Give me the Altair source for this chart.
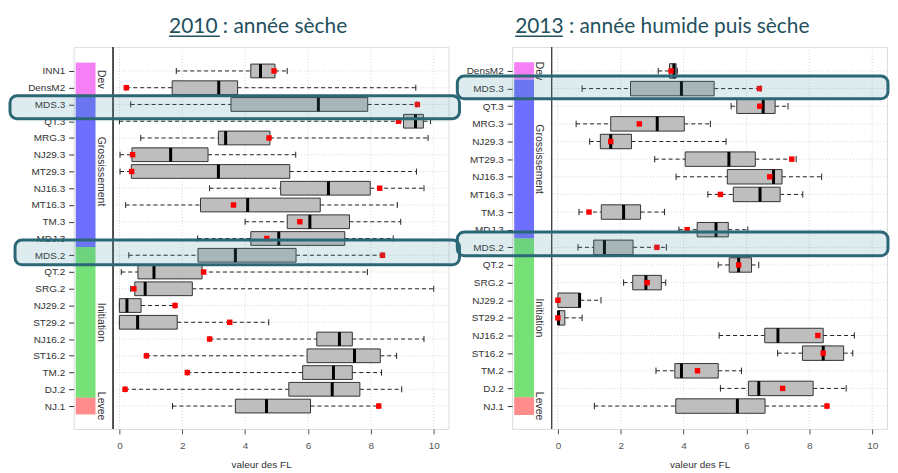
import altair as alt
import pandas as pd

# ---------------- data ----------------
rows2010 = ["INN1", "DensM2", "MDS.3", "QT.3", "MRG.3", "NJ29.3", "MT29.3", "NJ16.3",
            "MT16.3", "TM.3", "MDJ.3", "MDS.2", "QT.2", "SRG.2", "NJ29.2", "ST29.2",
            "NJ16.2", "ST16.2", "TM.2", "DJ.2", "NJ.1"]
lo2010 = [1.81, 0.22, 0.36, 0.00, 0.68, 0.02, 0.02, 2.87, 0.20, 4.00, 2.49, 0.30, 0.06,
          0.36, 0.00, 0.00, 2.87, 0.86, 2.16, 0.18, 1.69]
q1_2010 = [4.18, 1.68, 3.55, 9.04, 3.15, 0.40, 0.38, 5.13, 2.58, 5.34, 4.18, 2.50, 0.59,
           0.49, 0.00, 0.00, 6.28, 5.97, 5.83, 5.39, 3.69]
med2010 = [4.49, 3.16, 6.33, 9.42, 3.38, 1.63, 3.15, 6.65, 4.08, 6.06, 5.07, 3.69, 1.10,
           0.82, 0.24, 0.58, 7.00, 7.48, 6.81, 6.77, 4.68]
q3_2010 = [4.95, 3.76, 7.90, 9.67, 4.79, 2.82, 5.42, 7.98, 6.39, 7.32, 7.17, 5.62, 2.63,
           2.32, 0.69, 1.84, 7.41, 8.30, 7.41, 7.65, 6.08]
hi2010 = [5.34, 9.43, 9.46, 9.90, 9.82, 5.61, 9.45, 9.69, 8.84, 8.95, 8.71, 8.37, 7.89,
          10.00, 1.77, 4.75, 9.69, 8.82, 8.34, 8.98, 8.25]
mean2010 = [4.92, 0.22, 9.48, 8.88, 4.76, 0.42, 0.39, 8.28, 3.63, 5.74, 4.69, 8.37, 2.68,
            0.46, 1.77, 3.51, 2.87, 0.86, 2.16, 0.18, 8.25]

rows2013 = ["DensM2", "MDS.3", "QT.3", "MRG.3", "NJ29.3", "MT29.3", "NJ16.3", "MT16.3",
            "TM.3", "MDJ.3", "MDS.2", "QT.2", "SRG.2", "NJ29.2", "ST29.2", "NJ16.2",
            "ST16.2", "TM.2", "DJ.2", "NJ.1"]
lo2013 = [3.19, 0.77, 5.51, 0.58, 1.01, 3.08, 3.76, 4.77, 0.67, 3.85, 0.64, 5.10, 2.09,
          0.00, 0.00, 5.13, 6.99, 3.12, 5.17, 1.16]
q1_2013 = [3.55, 2.31, 5.69, 1.68, 1.35, 4.05, 5.39, 5.58, 1.38, 4.43, 1.14, 5.45, 2.38,
           0.00, 0.00, 6.58, 7.78, 3.72, 6.06, 3.75]
med2013 = [3.69, 3.93, 6.53, 3.16, 1.68, 5.44, 6.86, 6.43, 2.09, 5.03, 1.48, 5.75, 2.80,
           0.69, 0.02, 7.00, 8.44, 3.93, 6.39, 5.71]
q3_2013 = [3.76, 4.97, 6.91, 4.02, 2.34, 6.28, 7.13, 7.07, 2.63, 5.42, 2.39, 6.16, 3.29,
           0.71, 0.22, 8.44, 9.09, 5.10, 8.12, 6.59]
hi2013 = [3.80, 6.44, 7.32, 4.85, 5.35, 7.58, 8.39, 7.79, 3.39, 6.04, 3.45, 6.39, 3.43,
          1.37, 0.77, 9.43, 9.38, 5.84, 9.17, 8.56]
mean2013 = [3.60, 6.41, 6.42, 2.59, 1.68, 7.44, 6.74, 5.17, 0.99, 4.11, 3.15, 5.75, 2.84,
            0.00, 0.00, 8.27, 8.44, 4.44, 7.15, 8.56]

stage_names = ["Dev", "Grossissement", "Initiation", "Levee"]
stage_colors = ["#f25cf2", "#4646ff", "#4fd84f", "#ff6a6a"]
# first / last row (1-based) of every stage
stages2010_first = [1, 3, 12, 21]
stages2010_last = [2, 11, 20, 21]
stages2013_first = [1, 2, 11, 20]
stages2013_last = [1, 10, 19, 20]

# highlighted rows (annotation boxes)
hl2010_rows = [3, 12]
hl2010_top = [-0.52, -0.91]
hl2010_bot = [0.85, 0.57]
hl2010_left = [-3.48, -3.32]
hl2010_right = [10.82, 10.82]
hl2013_rows = [2, 11]
hl2013_top = [-0.72, -0.87]
hl2013_bot = [0.58, 0.48]
hl2013_left = [-3.2, -3.2]
hl2013_right = [10.5, 10.5]

x_ticks = [0, 2, 4, 6, 8, 10]
X_DOM = [-1.456, 10.47]

W, H = 377, 384
FONT = "Liberation Sans"
TITLE_COLOR = "#24505e"


def panel(rows, lo, q1, med, q3, hi, mean, s_first, s_last,
          hl_rows, hl_top, hl_bot, hl_left, hl_right,
          title_text, title_dx, ul_x, ul_x2):
    n = len(rows)
    df = pd.DataFrame({"row": rows, "r": list(range(1, n + 1)), "lo": lo, "q1": q1,
                       "med": med, "q3": q3, "hi": hi, "mean": mean})
    df["ya"] = df["r"] - 0.41
    df["yb"] = df["r"] + 0.41
    df["ca"] = df["r"] - 0.18
    df["cb"] = df["r"] + 0.18

    st = pd.DataFrame({"stage": stage_names, "first": s_first, "last": s_last})
    st["y0"] = st["first"] - 0.5
    st["y1"] = st["last"] + 0.5
    st["yc"] = (st["first"] + st["last"]) / 2

    hl = pd.DataFrame({"r": hl_rows, "t": hl_top, "b": hl_bot, "l": hl_left, "rr": hl_right})
    hl["y0"] = hl["r"] + hl["t"]
    hl["y1"] = hl["r"] + hl["b"]

    step = (H - 47.0) / (n - 1)
    ymin = 1 - 24.0 / step
    ymax = ymin + H / step
    ydom = [ymin, ymax]

    labels_js = "[" + ",".join("'" + r + "'" for r in rows) + "]"
    xs = alt.Scale(domain=X_DOM, nice=False, zero=False)
    ys = alt.Scale(domain=ydom, nice=False, zero=False, reverse=True)

    x_axis = alt.Axis(values=x_ticks, title="valeur des FL", grid=False, domain=False,
                      tickSize=5, tickColor="#555", labelColor="#555",
                      labelFontSize=10, labelFont=FONT, labelPadding=7,
                      titleFont=FONT, titleFontSize=10, titleFontWeight="normal",
                      titleColor="#333", titlePadding=9)
    y_axis = alt.Axis(values=list(range(1, n + 1)), labelExpr=labels_js + "[datum.value - 1]",
                      title=None, grid=False, domain=False, tickSize=5,
                      tickColor="#333", labelColor="#333", labelFontSize=10,
                      labelFont=FONT, labelPadding=4, labelOverlap=False,
                      labelBound=False, labelFlush=False)

    def X(f):
        return alt.X(f, scale=xs, axis=x_axis, title="valeur des FL")

    def Y(f):
        return alt.Y(f, scale=ys, axis=y_axis, title=None)

    base = alt.Chart(df)

    vgrid = alt.Chart(pd.DataFrame({"t": x_ticks})).mark_rule(
        color="#d6d6d6", strokeDash=[1, 2], strokeWidth=1).encode(x=X("t:Q"))
    hgrid = base.mark_rule(color="#d6d6d6", strokeDash=[1, 2], strokeWidth=1).encode(
        y=Y("r:Q"), x=alt.datum(-0.2), x2=alt.datum(X_DOM[1]))

    strips = alt.Chart(st).mark_rect(opacity=0.78).encode(
        x=alt.datum(-1.39), x2=alt.datum(-0.76),
        y=Y("y0:Q"), y2="y1:Q",
        color=alt.Color("stage:N", scale=alt.Scale(domain=stage_names, range=stage_colors),
                        legend=None))
    stage_txt = alt.Chart(st).mark_text(angle=90, fontSize=10.5, font=FONT, color="#333",
                                        align="center", baseline="middle").encode(
        x=alt.datum(-0.6), y=Y("yc:Q"), text="stage:N")
    inner = alt.Chart(st).mark_rule(color="#444", strokeWidth=1).encode(x=alt.datum(-0.2))

    wl = base.mark_rule(color="#222", strokeDash=[4, 3], strokeWidth=1).encode(
        x=X("lo:Q"), x2="q1:Q", y=Y("r:Q"))
    wh = base.mark_rule(color="#222", strokeDash=[4, 3], strokeWidth=1).encode(
        x=X("q3:Q"), x2="hi:Q", y=Y("r:Q"))
    cl = base.mark_rule(color="#222", strokeWidth=1).encode(
        x=X("lo:Q"), y=Y("ca:Q"), y2="cb:Q")
    ch = base.mark_rule(color="#222", strokeWidth=1).encode(
        x=X("hi:Q"), y=Y("ca:Q"), y2="cb:Q")
    box = base.mark_rect(fill="#bebebe", stroke="#333", strokeWidth=1).encode(
        x=X("q1:Q"), x2="q3:Q", y=Y("ya:Q"), y2="yb:Q")
    medl = base.mark_rule(color="#000", strokeWidth=3).encode(
        x=X("med:Q"), y=Y("ya:Q"), y2="yb:Q")
    means = base.mark_square(color="#ff0000", size=30, opacity=1).encode(
        x=X("mean:Q"), y=Y("r:Q"))

    hlbox = alt.Chart(hl).mark_rect(fill="#4f93a8", fillOpacity=0.18, stroke="#2c6776",
                                    strokeWidth=3, cornerRadius=7, clip=False).encode(
        x=X("l:Q"), x2="rr:Q", y=Y("y0:Q"), y2="y1:Q")

    one = pd.DataFrame({"t": [title_text]})
    title = alt.Chart(one).mark_text(align="left", baseline="alphabetic", fontSize=21,
                                     font="Lato", color=TITLE_COLOR).encode(
        x=alt.value(title_dx), y=alt.value(-14), text="t:N")
    underline = alt.Chart(one).mark_rule(color=TITLE_COLOR, strokeWidth=1.5).encode(
        x=alt.value(ul_x), x2=alt.value(ul_x2), y=alt.value(-11))

    return alt.layer(vgrid, hgrid, strips, stage_txt, inner, wl, wh, cl, ch, box, medl,
                     means, hlbox, title, underline).properties(width=W, height=H)


left = panel(rows2010, lo2010, q1_2010, med2010, q3_2010, hi2010, mean2010,
             stages2010_first, stages2010_last,
             hl2010_rows, hl2010_top, hl2010_bot, hl2010_left, hl2010_right,
             "2010 : année sèche", 96, 96, 147)
right = panel(rows2013, lo2013, q1_2013, med2013, q3_2013, hi2013, mean2013,
              stages2013_first, stages2013_last,
              hl2013_rows, hl2013_top, hl2013_bot, hl2013_left, hl2013_right,
              "2013 : année humide puis sèche", 3, 3, 51)

chart = alt.hconcat(left, right, spacing=64, bounds="flush").properties(
    padding={"left": 0, "top": 6, "right": 0, "bottom": 0}
).configure_view(stroke="#555", strokeWidth=1).configure(background="white")

chart.save("out.html", embed_options={"renderer": "svg", "actions": False})
